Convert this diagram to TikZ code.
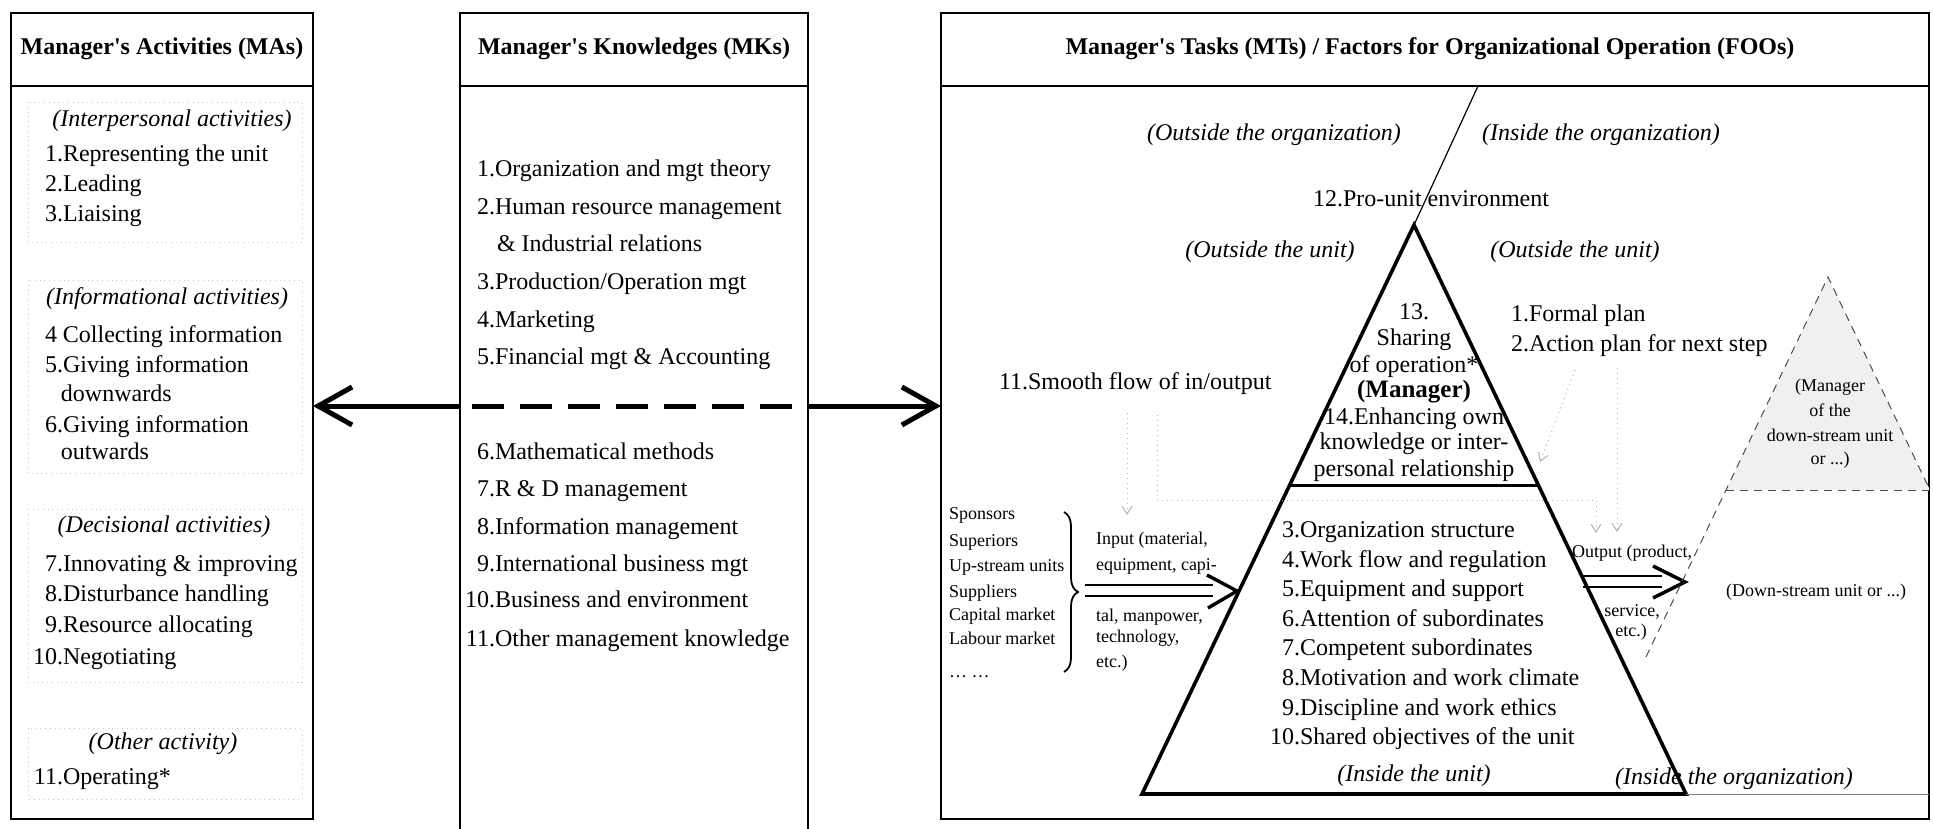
\documentclass[tikz,border=0pt]{standalone}
\usepackage{fontspec}
\setmainfont{Liberation Serif}
\usetikzlibrary{arrows.meta,decorations.pathreplacing,fit,calc}
% number hanging to the left of the item text
\newcommand\numitem[2]{\llap{#1}#2}
\newcommand\apos{\textquotesingle}
\begin{document}
\begin{tikzpicture}[x=0.5pt,y=-0.5pt,
  every node/.style={inner sep=0pt, outer sep=0pt},
  panel/.style={draw, line width=1.1pt},
  rule/.style={line width=1.1pt},
  head/.style={font=\fontsize{12}{14}\selectfont\bfseries, anchor=mid},
  txt/.style={font=\fontsize{12}{14}\selectfont, anchor=mid west},
  ctxt/.style={font=\fontsize{12}{14}\selectfont, anchor=mid},
  sub/.style={font=\fontsize{12}{14}\selectfont\itshape, anchor=mid},
  small/.style={font=\fontsize{9}{11}\selectfont, anchor=mid west},
  csmall/.style={font=\fontsize{9}{11}\selectfont, anchor=mid},
  grp/.style={draw=gray!45, dotted, line width=0.4pt},
  bigarrow/.style={line width=2.5pt, -{Straight Barb[length=17pt,width=19pt]}},
  hint/.style={draw=gray!60, dotted, line width=0.5pt, -{Straight Barb[length=4pt,width=5pt]}},
  pyr/.style={line width=1.8pt, line join=miter},
  guide/.style={draw=black!70, line width=0.5pt, dash pattern=on 4pt off 3pt},
  flow/.style={line width=1.3pt},
  flowhead/.style={line width=1.7pt, line join=miter},
]
\useasboundingbox (0,0) rectangle (1933,829);

% ---------- panels ----------
\coordinate (hd) at (0,86);
\node[fit={(11,13)(313,819)}, panel] (ma) {};
\draw[rule] (ma.west |- hd) -- (ma.east |- hd);
\node[fit={(460,13)(808,829)}] (mk) {};
\draw[rule] (mk.south west) -- (mk.north west) -- (mk.north east) -- (mk.south east);
\draw[rule] (mk.west |- hd) -- (mk.east |- hd);
\node[fit={(941,13)(1929,819)}, panel] (mt) {};
\draw[rule] (mt.west |- hd) -- (mt.east |- hd);

\node[head] (ma-h) at (162,50) {Manager\apos s Activities (MAs)};
\node[head] (mk-h) at (634,50) {Manager\apos s Knowledges (MKs)};
\node[head] (mt-h) at (1430,50) {Manager\apos s Tasks (MTs) / Factors for Organizational Operation (FOOs)};

% ---------- links between panels ----------
\coordinate (ay) at (0,406);
\draw[bigarrow] (mk.west |- ay) -- (ma.east |- ay);
\draw[bigarrow] (mk.east |- ay) -- (mt.west |- ay);
\draw[line width=2.5pt, dash pattern=on 16pt off 8pt]
  ($(mk.west |- ay)+(12,0)$) -- ($(mk.east |- ay)+(-14,0)$);

% ---------- manager's activities ----------
\draw[grp] (28,102) rectangle (302,242);
\draw[grp] (28,280) rectangle (302,473);
\draw[grp] (28,509) rectangle (302,682);
\draw[grp] (28,728) rectangle (302,799);

\node[sub] (ma-g1) at (172,122) {(Interpersonal activities)};
\node[txt] (ma-1) at (63,157) {\numitem{1.}{Representing the unit}};
\node[txt] (ma-2) at (63,187) {\numitem{2.}{Leading}};
\node[txt] (ma-3) at (63,217) {\numitem{3.}{Liaising}};
\node[sub] (ma-g2) at (167,300) {(Informational activities)};
\node[txt] (ma-4) at (63,338) {\numitem{4 }{Collecting information}};
\node[txt] (ma-5) at (63,368) {\numitem{5.}{Giving information}};
\node[txt] (ma-5b) at (61,397) {downwards};
\node[txt] (ma-6) at (63,428) {\numitem{6.}{Giving information}};
\node[txt] (ma-6b) at (61,455) {outwards};
\node[sub] (ma-g3) at (164,528) {(Decisional activities)};
\node[txt] (ma-7) at (63,567) {\numitem{7.}{Innovating \& improving}};
\node[txt] (ma-8) at (63,597) {\numitem{8.}{Disturbance handling}};
\node[txt] (ma-9) at (63,628) {\numitem{9.}{Resource allocating}};
\node[txt] (ma-10) at (63,660) {\numitem{10.}{Negotiating}};
\node[sub] (ma-g4) at (163,745) {(Other activity)};
\node[txt] (ma-11) at (63,780) {\numitem{11.}{Operating*}};

% ---------- manager's knowledges ----------
\node[txt] (mk-1) at (495,172) {\numitem{1.}{Organization and mgt theory}};
\node[txt] (mk-2) at (495,210) {\numitem{2.}{Human resource management}};
\node[txt] (mk-2b) at (497,247) {\& Industrial relations};
\node[txt] (mk-3) at (495,285) {\numitem{3.}{Production/Operation mgt}};
\node[txt] (mk-4) at (495,323) {\numitem{4.}{Marketing}};
\node[txt] (mk-5) at (495,360) {\numitem{5.}{Financial mgt \& Accounting}};
\node[txt] (mk-6) at (495,455) {\numitem{6.}{Mathematical methods}};
\node[txt] (mk-7) at (495,492) {\numitem{7.}{R \& D management}};
\node[txt] (mk-8) at (495,530) {\numitem{8.}{Information management}};
\node[txt] (mk-9) at (495,567) {\numitem{9.}{International business mgt}};
\node[txt] (mk-10) at (495,603) {\numitem{10.}{Business and environment}};
\node[txt] (mk-11) at (495,642) {\numitem{11.}{Other management knowledge}};

% ---------- manager's tasks / factors ----------
\coordinate (apex) at (1414,225);
\coordinate (bl) at (1142,794);
\coordinate (br) at (1686,794);
\coordinate (sl) at (1478,86);
\draw[line width=0.6pt] (sl) -- (apex);
\draw[pyr] (apex) -- (bl) -- (br) -- cycle;
\draw[line width=1.5pt] ($(apex)!0.457!(bl)$) -- ($(apex)!0.457!(br)$);
\draw[line width=0.5pt, gray] (br) -- (mt.east |- br);

\node[sub] (oo) at (1274,136) {(Outside the organization)};
\node[sub] (io) at (1601,136) {(Inside the organization)};
\node[txt] (f12) at (1313,202) {12.Pro-unit environment};
\node[sub] (ou1) at (1270,253) {(Outside the unit)};
\node[sub] (ou2) at (1575,253) {(Outside the unit)};

% manager at the top of the pyramid
\node[ctxt] (f13) at (1414,315) {13.};
\node[ctxt] (f13b) at (1414,341) {Sharing};
\node[ctxt] (f13c) at (1414,368) {of operation*};
\node[ctxt, font=\fontsize{12.5}{14}\selectfont\bfseries] (mgr) at (1414,393) {(Manager)};
\node[ctxt] (f14) at (1414,420) {14.Enhancing own};
\node[ctxt] (f14b) at (1414,445) {knowledge or inter-};
\node[ctxt] (f14c) at (1414,472) {personal relationship};

\node[txt] (f1) at (1511,317) {1.Formal plan};
\node[txt] (f2) at (1511,347) {2.Action plan for next step};
\node[txt] (f11) at (999,385) {11.Smooth flow of in/output};

% inside the unit
\node[txt] (f3) at (1300,533) {\numitem{3.}{Organization structure}};
\node[txt] (f4) at (1300,562.6) {\numitem{4.}{Work flow and regulation}};
\node[txt] (f5) at (1300,592.2) {\numitem{5.}{Equipment and support}};
\node[txt] (f6) at (1300,621.8) {\numitem{6.}{Attention of subordinates}};
\node[txt] (f7) at (1300,651.4) {\numitem{7.}{Competent subordinates}};
\node[txt] (f8) at (1300,681) {\numitem{8.}{Motivation and work climate}};
\node[txt] (f9) at (1300,710.6) {\numitem{9.}{Discipline and work ethics}};
\node[txt] (f10) at (1300,740.2) {\numitem{10.}{Shared objectives of the unit}};
\node[sub] (iu) at (1414,777) {(Inside the unit)};
\node[sub] (io2) at (1734,780) {(Inside the organization)};

% dotted hints
\coordinate (h1a) at (1127,413); \coordinate (h1b) at (1127,515);
\draw[hint] (h1a) -- (h1b);
\coordinate (h2a) at (1157,415); \coordinate (h2b) at (1157,500);
\coordinate (h2c) at (1596,500); \coordinate (h2d) at (1596,533);
\draw[hint] (h2a) -- (h2b) -- (h2c) -- (h2d);
\coordinate (h3a) at (1575,370); \coordinate (h3b) at (1540,462);
\draw[hint] (h3a) -- (h3b);
\coordinate (h4a) at (1617,368); \coordinate (h4b) at (1617,532);
\draw[hint] (h4a) -- (h4b);

% suppliers and input
\node[small] (s1) at (949,515) {Sponsors};
\node[small] (s2) at (949,542) {Superiors};
\node[small] (s3) at (949,567) {Up-stream units};
\node[small] (s4) at (949,593) {Suppliers};
\node[small] (s5) at (949,616) {Capital market};
\node[small] (s6) at (949,640) {Labour market};
\node[small] (s7) at (949,673) {… …};
\draw[line width=0.9pt, decorate, decoration={brace, amplitude=7pt}] (1064,512) -- (1064,672);

\node[small] (in1) at (1096,540) {Input (material,};
\node[small] (in2) at (1096,566) {equipment, capi-};
\node[small] (in3) at (1096,617) {tal, manpower,};
\node[small] (in4) at (1096,638) {technology,};
\node[small] (in5) at (1096,663) {etc.)};
\coordinate (ia1) at (1085,585); \coordinate (ib1) at (1213,585);
\coordinate (ia2) at (1085,596); \coordinate (ib2) at (1213,596);
\draw[flow] (ia1) -- (ib1);
\draw[flow] (ia2) -- (ib2);
\coordinate (it) at (1237,591);
\draw[flowhead] (1207,575) -- (it) -- (1208,608);

% output
\node[csmall] (out1) at (1632,553) {Output (product,};
\node[csmall] (out2) at (1632,612) {service,};
\node[csmall] (out3) at (1631,632) {etc.)};
\coordinate (oa1) at (1583,576); \coordinate (ob1) at (1662,576);
\coordinate (oa2) at (1583,587); \coordinate (ob2) at (1662,587);
\draw[flow] (oa1) -- (ob1);
\draw[flow] (oa2) -- (ob2);
\coordinate (ot) at (1685,582);
\draw[flowhead] (1653,566) -- (ot) -- (1653,598);

% down-stream unit
\coordinate (dap) at (1828,277);
\coordinate (dbl) at (1726,490);
\coordinate (dbr) at (1929,490);
\coordinate (dre) at (1929,488);
\coordinate (dlow) at (1646,657);
\fill[gray!12] (dap) -- (dbl) -- (dbr) -- (dre) -- cycle;
\draw[guide] (dlow) -- (dap) -- (dre);
\draw[guide] (dbl) -- (dbr);
\node[csmall] (d1) at (1830,387) {(Manager};
\node[csmall] (d2) at (1830,412) {of the};
\node[csmall] (d3) at (1830,437) {down-stream unit};
\node[csmall] (d4) at (1830,460) {or ...)};
\node[csmall] (d5) at (1816,592) {(Down-stream unit or ...)};
\end{tikzpicture}
\end{document}
